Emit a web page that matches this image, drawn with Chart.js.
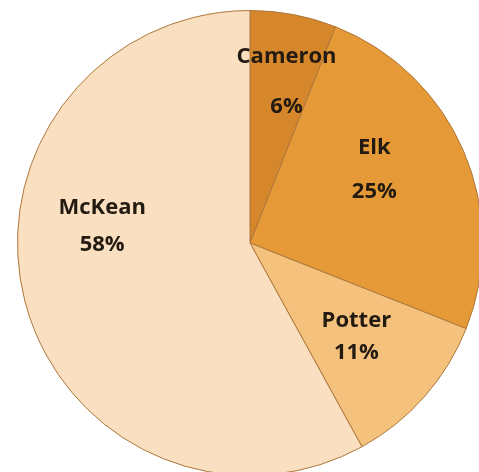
<!DOCTYPE html>
<html>
<head>
<meta charset="utf-8">
<script src="https://cdn.jsdelivr.net/npm/chart.js"></script>
<style>
    html, body { margin: 0; padding: 0; background: #ffffff; overflow: hidden; width: 479px; height: 472px; }
    .chart-box { position: absolute; left: 17px; top: 10px; width: 466px; height: 466px; }
</style>
</head>
<body>
<div class="chart-box"><canvas id="pieChart"></canvas></div>
<script>
    // data
    const counties = ['Cameron', 'Elk', 'Potter', 'McKean'];
    const shares = [6, 25, 11, 58];
    const sliceColors = ['#d6872b', '#e59a37', '#f4c27c', '#fae0c0'];

    // label placement: radius fraction, angle shift (deg), gap between lines
    const labelPlace = [
        { r: 0.71, shift: 2, gap: 50 },
        { r: 0.62, shift: -7, gap: 44 },
        { r: 0.61, shift: 0, gap: 32 },
        { r: 0.64, shift: 21, gap: 37 }
    ];

    const sliceLabels = {
        id: 'sliceLabels',
        afterDatasetsDraw(chart) {
            const ctx = chart.ctx;
            const meta = chart.getDatasetMeta(0);
            ctx.save();
            ctx.font = 'bold 22px "Open Sans", Lato, sans-serif';
            ctx.fillStyle = '#231a12';
            ctx.textAlign = 'center';
            ctx.textBaseline = 'middle';
            meta.data.forEach((arc, i) => {
                const p = labelPlace[i];
                const mid = (arc.startAngle + arc.endAngle) / 2 + p.shift * Math.PI / 180;
                const rad = arc.outerRadius * p.r;
                const x = arc.x + Math.cos(mid) * rad;
                const y = arc.y + Math.sin(mid) * rad;
                ctx.fillText(counties[i], x, y - p.gap / 2);
                ctx.fillText(shares[i] + '%', x, y + p.gap / 2);
            });
            ctx.restore();
        }
    };

    new Chart(document.getElementById('pieChart'), {
        type: 'pie',
        data: {
            labels: counties,
            datasets: [{
                data: shares,
                backgroundColor: sliceColors,
                borderColor: '#ad763a',
                borderWidth: 1,
                hoverOffset: 0
            }]
        },
        options: {
            responsive: true,
            maintainAspectRatio: false,
            animation: false,
            layout: { padding: 0 },
            plugins: { legend: { display: false }, tooltip: { enabled: false } }
        },
        plugins: [sliceLabels]
    });
</script>
</body>
</html>
